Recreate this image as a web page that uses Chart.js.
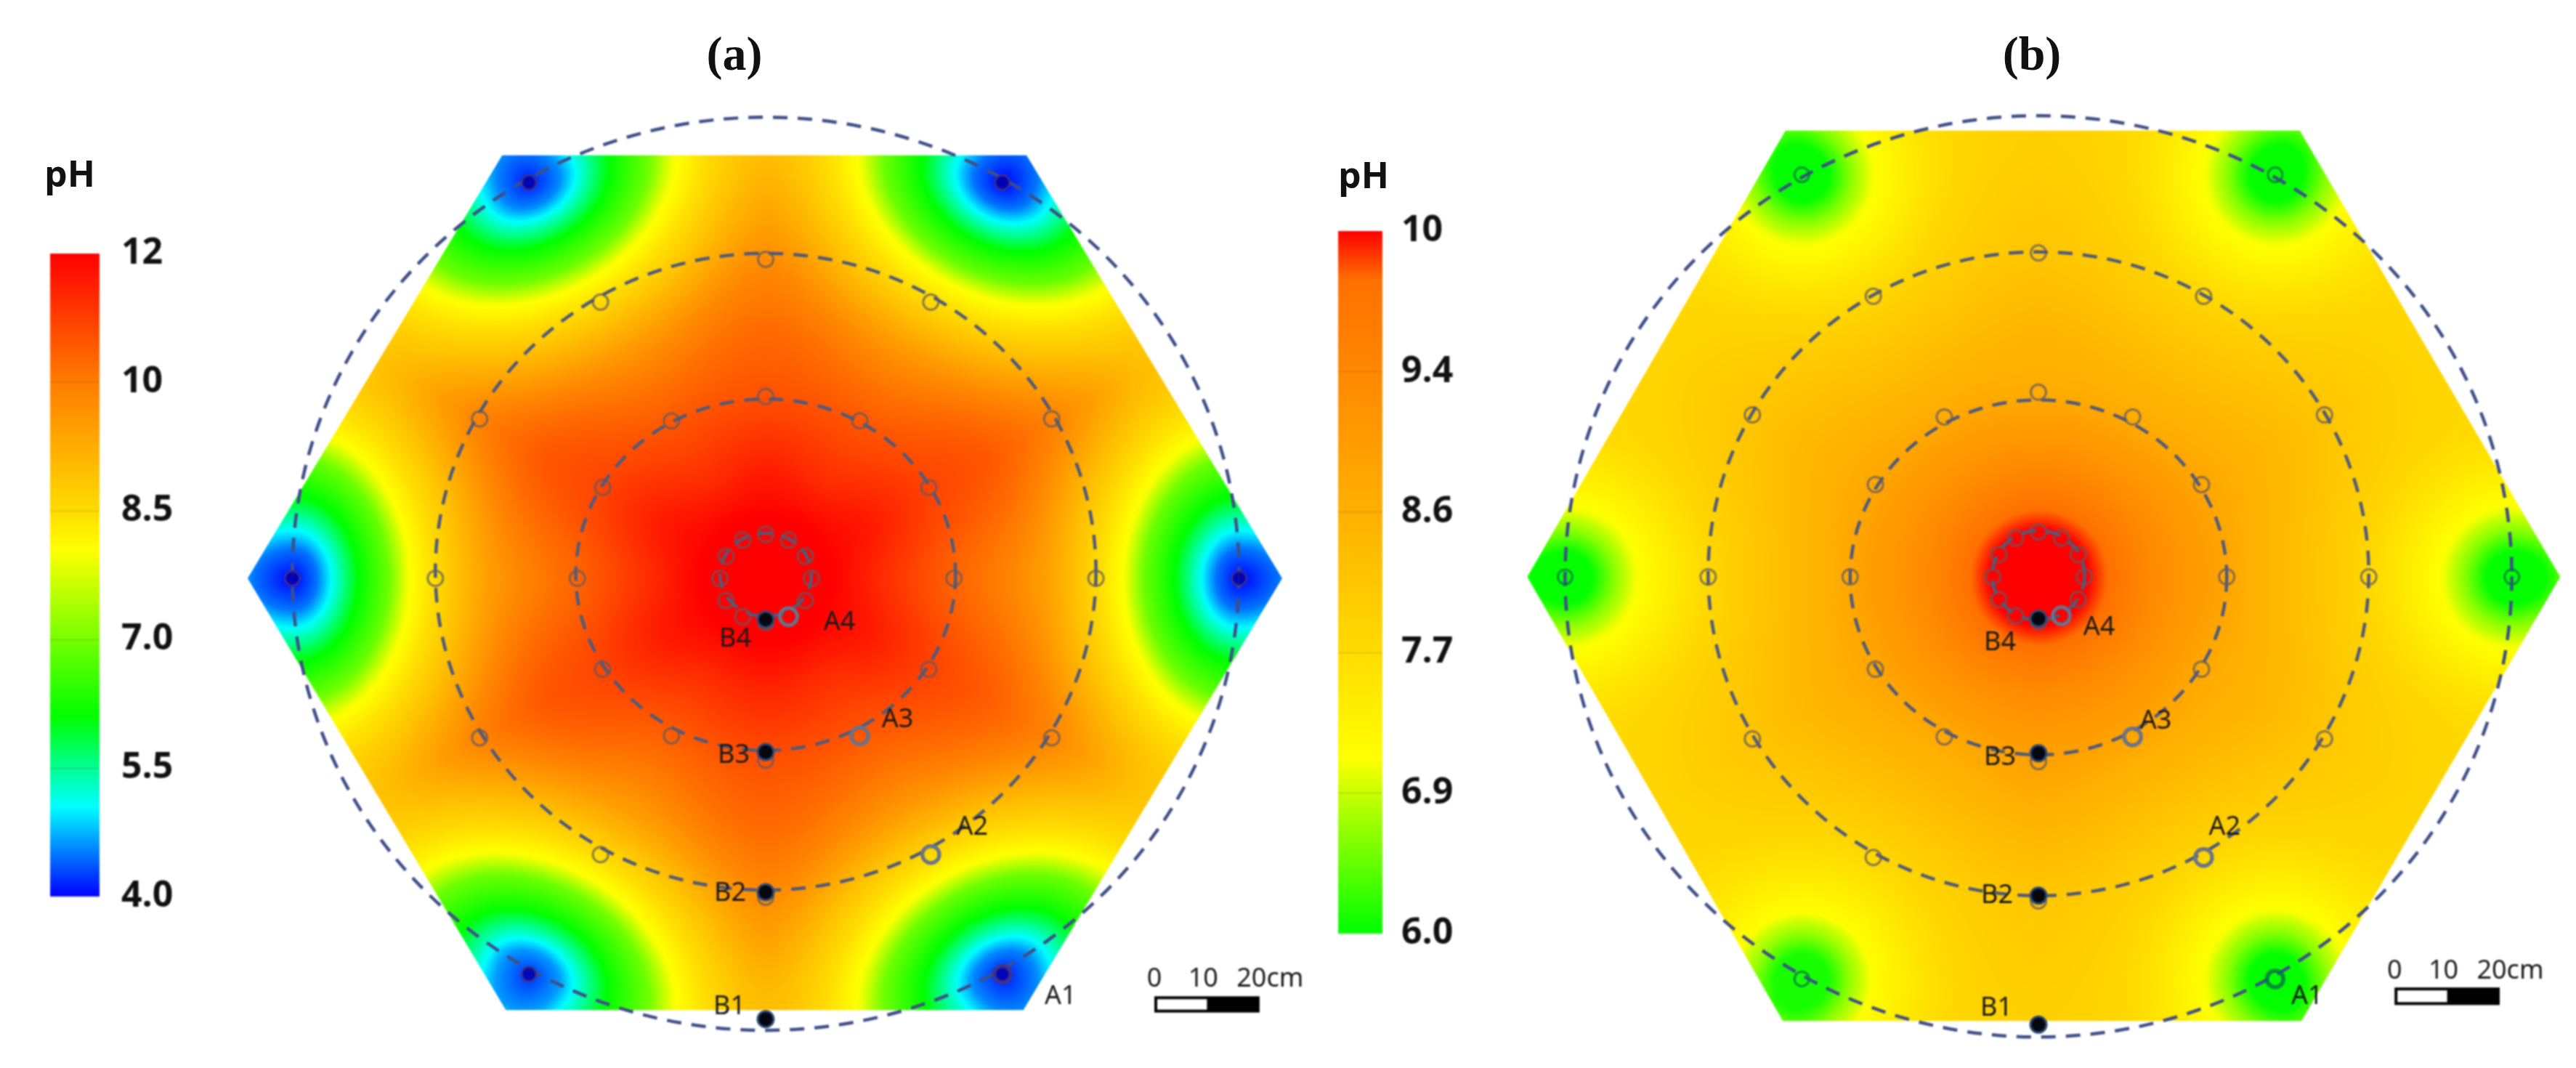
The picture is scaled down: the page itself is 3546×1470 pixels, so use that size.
<!DOCTYPE html>
<html>
<head>
<meta charset="utf-8">
<title>pH maps</title>
<script src="https://cdn.jsdelivr.net/npm/chart.js@4/dist/chart.umd.min.js"></script>
<style>
    html, body { margin: 0; background: #fff; }
    body { position: relative; width: 3546px; height: 1470px; overflow: hidden; }
    canvas { position: absolute; filter: blur(1px); }
    .panelTitle { position: absolute; top: 36px; font: bold 66px "Liberation Serif", serif; color: #111; transform: translateX(-50%); filter: blur(0.6px); }
    .unit { position: absolute; font: bold 50px "Open Sans", sans-serif; color: #111; transform: translateX(-50%); filter: blur(0.6px); }
</style>
</head>
<body>
<div class="panelTitle" style="left:1011px">(a)</div>
<div class="panelTitle" style="left:2797px">(b)</div>
<div class="unit" style="left:96px;top:204px">pH</div>
<div class="unit" style="left:1877px;top:206px">pH</div>
<canvas id="barA" width="228" height="1000" style="left:62px;top:300px"></canvas>
<canvas id="mapA" width="1510" height="1320" style="left:300px;top:130px"></canvas>
<canvas id="barB" width="228" height="1040" style="left:1835px;top:280px"></canvas>
<canvas id="mapB" width="1486" height="1320" style="left:2060px;top:130px"></canvas>
<script>
// colour bar ticks, evenly spaced on the bar
const ticksA = [4.0, 5.5, 7.0, 8.5, 10, 12];
const ticksB = [6.0, 6.9, 7.7, 8.6, 9.4, 10];
const tickLabelsA = ['4.0', '5.5', '7.0', '8.5', '10', '12'];
const tickLabelsB = ['6.0', '6.9', '7.7', '8.6', '9.4', '10'];

// sensor layout, cm and degrees
const ringAngles = [0, 30, 60, 90, 120, 150, 180, 210, 240, 270, 300, 330];
const outerAngles = [0, 60, 120, 180, 240, 300];
const coreRadius = 8.7;
const innerRadius = 35.8;
const middleRadius = 62.8;
const outerRadius = 90;
const pointNamesA = ['A1', 'A2', 'A3', 'A4'];
const pointNamesB = ['B1', 'B2', 'B3', 'B4'];
const pointRadiiA = [90, 62.8, 35.8, 8.7];
const pointRadiiB = [86.8, 61.8, 34.2, 8.1];

// dashed circles as printed, they sit a little off the sensors: x radius, y radius, centre height, cm
const circleRxA = [90, 62.8, 36.1, 8.7];
const circleRyA = [89.9, 62.7, 34.6, 8.2];
const circleCyA = [0.9, 1.3, 0.7, 0.7];
const circleRxB = [90, 62.8, 35.8, 8.8];
const circleRyB = [89.3, 62.4, 34.4, 8.7];
const circleCyB = [0.1, 0.6, -0.1, 0.3];

// hexagon outline of each map, cm
const hexXA = [-98.5, -50.1, 49.6, 98.2, 49.0, -49.4];
const hexYA = [0, 83.3, 83.3, 0, -85, -85];
const hexXB = [-97.2, -48.1, 49.7, 99.2, 50, -48.6];
const hexYB = [0, 86.5, 86.5, 0, -86.1, -86.1];

// pH at these distances from the centre, one row per distance, one column per ring angle
const readRadii = [0, 8.7, 14, 22, 35.8, 49, 62.8, 80, 100];

const centrePhA = [12.5, 12.5, 12.5, 12.5, 12.5, 12.5, 12.5, 12.5, 12.5, 12.5, 12.5, 12.5];
const corePhA = [12.2, 12.2, 12.2, 12.2, 12.2, 12.2, 12.2, 12.2, 12.2, 12.2, 12.2, 12.2];
const rimPhA = [11.9, 11.9, 11.9, 11.9, 11.9, 11.9, 11.9, 11.9, 11.9, 11.9, 11.9, 11.9];
const glowPhA = [11.3, 11.6, 11.3, 11.5, 11.3, 11.6, 11.3, 11.6, 11.3, 11.4, 11.3, 11.6];
const innerPhA = [10.4, 10.9, 10.6, 10.7, 10.6, 10.9, 10.4, 10.9, 10.5, 10.7, 10.6, 10.9];
const lobePhA = [9.8, 10.6, 9.9, 10.3, 9.9, 10.6, 9.8, 10.6, 9.8, 10.3, 9.9, 10.5];
const middlePhA = [9.5, 10.0, 9.5, 9.8, 9.5, 10.0, 9.5, 10.0, 9.4, 9.8, 9.5, 9.9];
const shellPhA = [9.1, 9.1, 9.1, 9.1, 9.1, 9.1, 9.1, 9.1, 9.1, 9.1, 9.1, 9.0];
const edgePhA = [8.7, 8.5, 8.7, 8.7, 8.7, 8.5, 8.7, 8.5, 8.7, 8.7, 8.7, 8.5];

const centrePhB = [10.3, 10.3, 10.3, 10.3, 10.3, 10.3, 10.3, 10.3, 10.3, 10.3, 10.3, 10.3];
const corePhB = [10.05, 10.05, 10.05, 10.05, 10.05, 10.05, 10.05, 10.05, 10.05, 10.05, 10.05, 10.05];
const rimPhB = [9.75, 9.75, 9.75, 9.75, 9.75, 9.75, 9.75, 9.75, 9.75, 9.75, 9.75, 9.75];
const glowPhB = [9.35, 9.35, 9.35, 9.35, 9.35, 9.35, 9.35, 9.35, 9.35, 9.35, 9.35, 9.35];
const innerPhB = [8.9, 8.8, 8.75, 8.7, 8.8, 8.8, 8.9, 8.8, 8.8, 8.9, 8.9, 8.75];
const lobePhB = [8.5, 8.5, 8.5, 8.5, 8.5, 8.5, 8.5, 8.5, 8.5, 8.5, 8.5, 8.5];
const middlePhB = [8.15, 8.2, 8.2, 8.2, 8.2, 8.2, 8.15, 8.2, 8.1, 8.15, 8.15, 8.15];
const shellPhB = [7.95, 7.9, 7.95, 8.0, 7.95, 7.9, 7.95, 7.9, 7.95, 8.0, 7.95, 7.9];
const edgePhB = [7.75, 7.75, 7.75, 7.85, 7.75, 7.75, 7.75, 7.75, 7.75, 7.85, 7.75, 7.75];

// pH against distance from the six low sensors on the outer circle
const spotDistA = [0, 6, 10, 16, 24, 29, 34, 42, 60, 100];
const spotPhA = [3.9, 4.4, 5.05, 6.0, 6.9, 8.0, 8.4, 9.0, 10.5, 14];
const spotDistB = [0, 5, 9, 13, 21, 30, 50, 100];
const spotPhB = [6.0, 6.02, 6.6, 7.05, 7.5, 8.0, 8.8, 12];
const outerPhA = [4.0, 4.0, 4.1, 4.0, 4.2, 4.1];
const outerPhB = [6.0, 6.0, 6.0, 6.0, 6.1, 6.0];

// colours along the bar, bottom to top
const colourStopsA = [[0, '#0000ff'], [0.14, '#00ffff'], [0.28, '#00ff00'], [0.54, '#ffff00'], [0.6, '#ffdc00'], [0.8, '#ff7d00'], [1, '#ff0000']];
const colourStopsB = [[0, '#00ff00'], [0.2, '#c8ff00'], [0.25, '#ffff00'], [0.4, '#ffdc00'], [0.6, '#ffb000'], [0.8, '#ff8800'], [0.93, '#ff7000'], [1, '#ff0000']];

const polar = (r, deg) => ({ x: r * Math.cos(deg * Math.PI / 180), y: r * Math.sin(deg * Math.PI / 180) });

function hexToRgb(hex) {
    return [parseInt(hex.slice(1, 3), 16), parseInt(hex.slice(3, 5), 16), parseInt(hex.slice(5, 7), 16)];
}

function phToT(ph, ticks) {
    if (ph <= ticks[0]) return 0;
    for (let i = 1; i < ticks.length; i++) {
        if (ph <= ticks[i]) return (i - 1 + (ph - ticks[i - 1]) / (ticks[i] - ticks[i - 1])) / (ticks.length - 1);
    }
    return 1;
}

function tToRgb(t, stops) {
    for (let i = 1; i < stops.length; i++) {
        if (t <= stops[i][0]) {
            const f = (t - stops[i - 1][0]) / (stops[i][0] - stops[i - 1][0]);
            const a = hexToRgb(stops[i - 1][1]), b = hexToRgb(stops[i][1]);
            return [a[0] + (b[0] - a[0]) * f, a[1] + (b[1] - a[1]) * f, a[2] + (b[2] - a[2]) * f];
        }
    }
    return hexToRgb(stops[stops.length - 1][1]);
}

function lookup(xs, ys, v) {
    if (v >= xs[xs.length - 1]) return ys[ys.length - 1];
    let i = 1;
    while (xs[i] < v) i++;
    return ys[i - 1] + (ys[i] - ys[i - 1]) * (v - xs[i - 1]) / (xs[i] - xs[i - 1]);
}

// pH at one place on the map, taken from the tables of readings
function phAt(cx, cy, p) {
    const r = Math.sqrt(cx * cx + cy * cy);
    let deg = Math.atan2(cy, cx) * 180 / Math.PI;
    if (deg < 0) deg += 360;
    const a0 = Math.floor(deg / 30) % 12, a1 = (a0 + 1) % 12;
    let f = deg / 30 - Math.floor(deg / 30);
    f = f * f * (3 - 2 * f);

    let row = 1;
    while (row < readRadii.length - 1 && readRadii[row] < r) row++;
    const fr = Math.min(1, (r - readRadii[row - 1]) / (readRadii[row] - readRadii[row - 1]));
    const low = p.table[row - 1][a0] + (p.table[row - 1][a1] - p.table[row - 1][a0]) * f;
    const high = p.table[row][a0] + (p.table[row][a1] - p.table[row][a0]) * f;
    const base = low + (high - low) * fr;

    // nearest low sensor, its contours are stretched along the hexagon edge
    let best = Infinity, offset = 0;
    for (let i = 0; i < p.spots.length; i++) {
        const s = p.spots[i];
        const dx = cx - s.x, dy = cy - s.y;
        const along = (dx * s.x + dy * s.y) / outerRadius;
        const across = (dx * s.y - dy * s.x) / outerRadius;
        const k = along < 0 ? p.stretchIn : 0.8;
        const d = Math.sqrt(across * across + k * k * along * along);
        if (d < best) { best = d; offset = p.outer[i] - p.spotPh[0]; }
    }
    const spot = lookup(p.spotDist, p.spotPh, best) + offset * Math.max(0, 1 - best / 30);

    // soft minimum of the two
    const m = Math.min(base, spot), n = Math.max(base, spot);
    return m - Math.log(1 + Math.exp(-4 * (n - m))) / 4;
}

function surfacePlugin(p) {
    return {
        id: 'surface',
        beforeDatasetsDraw(chart) {
            const { ctx, scales: { x, y } } = chart;
            const step = 2;
            const w = Math.ceil(chart.width / step), h = Math.ceil(chart.height / step);
            const off = document.createElement('canvas');
            off.width = w; off.height = h;
            const octx = off.getContext('2d');
            const img = octx.createImageData(w, h);

            const lo = p.ticks[0], hi = p.ticks[p.ticks.length - 1];
            const lut = [];
            for (let i = 0; i <= 1024; i++) lut.push(tToRgb(phToT(lo + (hi - lo) * i / 1024, p.ticks), p.stops));

            for (let j = 0; j < h; j++) {
                const cy = y.getValueForPixel(j * step);
                for (let i = 0; i < w; i++) {
                    const cx = x.getValueForPixel(i * step);
                    const ph = Math.min(hi, Math.max(lo, phAt(cx, cy, p)));
                    const c = lut[Math.round((ph - lo) / (hi - lo) * 1024)];
                    const o = (j * w + i) * 4;
                    img.data[o] = c[0]; img.data[o + 1] = c[1]; img.data[o + 2] = c[2]; img.data[o + 3] = 255;
                }
            }
            octx.putImageData(img, 0, 0);

            ctx.save();
            ctx.beginPath();
            p.hexX.forEach((hx, i) => ctx.lineTo(x.getPixelForValue(hx), y.getPixelForValue(p.hexY[i])));
            ctx.closePath();
            ctx.clip();
            ctx.imageSmoothingEnabled = true;
            ctx.drawImage(off, 0, 0, w * step, h * step);
            ctx.restore();

            // dashed circles
            ctx.save();
            ctx.setLineDash([20, 14]);
            ctx.lineWidth = 4.5;
            p.circleRx.forEach((rx, i) => {
                ctx.strokeStyle = i === 0 ? '#3f4f88' : '#4f5a7c';
                ctx.beginPath();
                ctx.ellipse(x.getPixelForValue(0), y.getPixelForValue(p.circleCy[i]),
                    x.getPixelForValue(rx) - x.getPixelForValue(0), y.getPixelForValue(0) - y.getPixelForValue(p.circleRy[i]), 0, 0, Math.PI * 2);
                ctx.stroke();
            });
            ctx.restore();
        }
    };
}

// point names and the scale bar
function notesPlugin(p) {
    return {
        id: 'notes',
        afterDatasetsDraw(chart) {
            const { ctx, scales: { x, y } } = chart;
            ctx.save();
            ctx.fillStyle = '#1a1a1a';
            ctx.font = '36px "Noto Sans"';
            ctx.textAlign = 'center';
            ctx.textBaseline = 'middle';
            p.names.forEach((name, i) => {
                ctx.fillText(name, x.getPixelForValue(p.namePoints[i].x) + p.nameOffsets[i][0], y.getPixelForValue(p.namePoints[i].y) + p.nameOffsets[i][1]);
            });
            const bx = v => x.getPixelForValue(p.barX + v);
            const top = y.getPixelForValue(p.barTop), bottom = y.getPixelForValue(p.barBottom);
            ctx.fillStyle = '#000';
            ctx.fillRect(bx(0), top, bx(20) - bx(0), bottom - top);
            ctx.fillStyle = '#fff';
            ctx.fillRect(bx(0) + 4, top + 4, bx(10) - bx(0) - 4, bottom - top - 8);
            ctx.fillStyle = '#1a1a1a';
            ctx.fillText('0', bx(0), y.getPixelForValue(p.barTextY));
            ctx.fillText('10', bx(9.3), y.getPixelForValue(p.barTextY));
            ctx.fillText('20cm', bx(22), y.getPixelForValue(p.barTextY));
            ctx.restore();
        }
    };
}

function drawMap(id, p) {
    const ringPoints = [];
    [coreRadius, innerRadius, middleRadius].forEach(r => ringAngles.forEach(a => ringPoints.push(polar(r, a))));
    const spots = outerAngles.map(a => polar(outerRadius, a));
    const pointsA = pointRadiiA.map(r => polar(r, 300));
    const pointsB = pointRadiiB.map(r => polar(r, 270));

    new Chart(document.getElementById(id), {
        type: 'scatter',
        data: {
            datasets: [
                { label: 'B', data: pointsB, backgroundColor: '#05070f', borderColor: '#2b4a78', borderWidth: 3, pointRadius: 11 },
                { label: 'A', data: pointsA, backgroundColor: 'transparent', borderColor: [p.spotBorder, '#66758f', '#66758f', '#66758f'], borderWidth: 4.5, pointRadius: 12 },
                { label: 'sensors', data: ringPoints, backgroundColor: 'transparent', borderColor: 'rgba(95,90,100,0.75)', borderWidth: 3, pointRadius: 10.5 },
                { label: 'low sensors', data: spots, backgroundColor: p.spotFill, borderColor: p.spotBorder, borderWidth: 3, pointRadius: 10 }
            ]
        },
        options: {
            responsive: false,
            animation: false,
            devicePixelRatio: 1,
            layout: { padding: 0, autoPadding: false },
            plugins: { legend: { display: false }, tooltip: { enabled: false } },
            scales: {
                x: { type: 'linear', display: false, min: p.xMin, max: p.xMax },
                y: { type: 'linear', display: false, min: p.yMin, max: p.yMax }
            }
        },
        plugins: [
            surfacePlugin({ ...p, spots }),
            notesPlugin({ names: pointNamesA.concat(pointNamesB), namePoints: pointsA.concat(pointsB), nameOffsets: p.nameOffsets, barX: p.barX, barTop: p.barTop, barBottom: p.barBottom, barTextY: p.barTextY })
        ]
    });
}

function drawBar(id, tickLabels, stops, box) {
    new Chart(document.getElementById(id), {
        type: 'bar',
        data: {
            labels: ['pH'],
            datasets: [{
                data: [[0, tickLabels.length - 1]],
                barPercentage: 1,
                categoryPercentage: 1,
                backgroundColor(c) {
                    const area = c.chart.chartArea;
                    if (!area) return '#fff';
                    const g = c.chart.ctx.createLinearGradient(0, area.bottom, 0, area.top);
                    stops.forEach(s => g.addColorStop(s[0], s[1]));
                    return g;
                }
            }]
        },
        options: {
            responsive: false,
            animation: false,
            devicePixelRatio: 1,
            layout: { padding: { left: box.left, top: box.top, bottom: box.bottom } },
            plugins: { legend: { display: false }, tooltip: { enabled: false } },
            scales: {
                x: { display: false },
                y: {
                    position: 'right',
                    min: 0,
                    max: tickLabels.length - 1,
                    grid: { color: 'rgba(90,60,0,0.28)', drawTicks: false, z: 1 },
                    border: { display: false },
                    ticks: {
                        stepSize: 1,
                        padding: box.tick,
                        color: '#111',
                        font: { family: '"Open Sans"', size: 50, weight: 'bold' },
                        callback: value => tickLabels[value]
                    },
                    afterFit(axis) {
                        axis.width = box.axis;
                        axis.paddingTop = 0;
                        axis.paddingBottom = 0;
                    }
                }
            }
        }
    });
}

document.addEventListener('DOMContentLoaded', () => {
    drawBar('barA', tickLabelsA, colourStopsA, { left: 7, top: 49, bottom: 66, tick: 30, axis: 153 });
    drawBar('barB', tickLabelsB, colourStopsB, { left: 7, top: 38, bottom: 35, tick: 26, axis: 160 });

    drawMap('mapA', {
        xMin: -104.14, xMax: 104.42, yMin: -93.56, yMax: 95.28,
        hexX: hexXA, hexY: hexYA, ticks: ticksA, stops: colourStopsA,
        circleRx: circleRxA, circleRy: circleRyA, circleCy: circleCyA,
        table: [centrePhA, corePhA, rimPhA, glowPhA, innerPhA, lobePhA, middlePhA, shellPhA, edgePhA],
        outer: outerPhA, spotDist: spotDistA, spotPh: spotPhA, stretchIn: 1.32,
        spotFill: 'rgba(0,0,170,0.85)', spotBorder: 'rgba(70,50,130,0.8)',
        nameOffsets: [[80, 31], [57, -37], [52, -22], [70, 8], [-50, -17], [-49, 2], [-44, 5], [-42, 27]],
        barX: 73.9, barTop: -82.3, barBottom: -85.5, barTextY: -79
    });
    drawMap('mapB', {
        xMin: -103.04, xMax: 102.2, yMin: -92.39, yMax: 93.52,
        hexX: hexXB, hexY: hexYB, ticks: ticksB, stops: colourStopsB,
        circleRx: circleRxB, circleRy: circleRyB, circleCy: circleCyB,
        table: [centrePhB, corePhB, rimPhB, glowPhB, innerPhB, lobePhB, middlePhB, shellPhB, edgePhB],
        outer: outerPhB, spotDist: spotDistB, spotPh: spotPhB, stretchIn: 1.0,
        spotFill: 'transparent', spotBorder: 'rgba(0,120,70,0.8)',
        nameOffsets: [[44, 24], [29, -41], [32, -21], [52, 16], [-58, -23], [-57, 0], [-53, 6], [-53, 33]],
        barX: 67.7, barTop: -79.6, barBottom: -83, barTextY: -76.5
    });
});
</script>
</body>
</html>
